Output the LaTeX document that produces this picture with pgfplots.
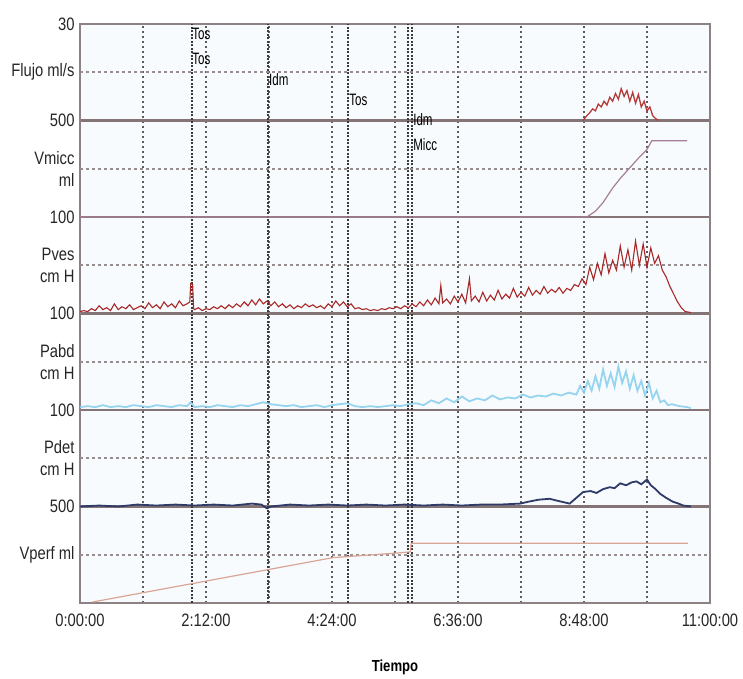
\documentclass[border=0pt]{standalone}
\usepackage{pgfplots}
\pgfplotsset{compat=1.18}
\usepackage{fontspec}
\setmainfont{Liberation Sans}[FakeStretch=0.82]
\newfontfamily\narrowfont{Liberation Sans}[FakeStretch=0.7]
\definecolor{bgc}{HTML}{F8FBFD}
\definecolor{framec}{HTML}{8C8284}
\definecolor{gridmaj}{HTML}{857476}
\definecolor{gridhalf}{HTML}{978C8E}
\definecolor{gridv}{HTML}{5E5A5C}
\definecolor{eventc}{HTML}{3A3A3A}
\definecolor{flujoc}{HTML}{B53A3A}
\definecolor{pvesc}{HTML}{A82828}
\definecolor{vmiccc}{HTML}{A58098}
\definecolor{pabdc}{HTML}{8CD0EE}
\definecolor{pdetc}{HTML}{2E3B68}
\definecolor{vperfc}{HTML}{D9A696}
\begin{document}
\begin{tikzpicture}
\path[use as bounding box] (0,0) rectangle (743bp,679bp);
\begin{axis}[
  at={(80bp,76bp)}, anchor=south west,
  width=630bp, height=579bp, scale only axis,
  xmin=0, xmax=660, ymin=0, ymax=6,
  axis background/.style={fill=bgc},
  axis line style={draw=framec, line width=2.5bp},
  major tick length=0pt, minor tick length=0pt,
  tick style={draw=none},
  xtick={0,132,264,396,528,660},
  xticklabels={0:00:00,2:12:00,4:24:00,6:36:00,8:48:00,11:00:00},
  minor xtick={66,198,330,462,594},
  xmajorgrids, xminorgrids,
  major x grid style={gridv, line width=1.2bp, dash pattern=on 2bp off 3bp},
  minor x grid style={gridv, line width=1.2bp, dash pattern=on 2bp off 3bp},
  ytick={1,2,3,4,5,6},
  yticklabels={500,100,100,100,500,30},
  ymajorgrids,
  major y grid style={gridmaj, line width=2.6bp},
  extra y ticks={0.5,1.5,2.5,3.5,4.5,5.5},
  extra y tick labels={Vperf ml,Pdet\\cm H,Pabd\\cm H,Pves\\cm H,Vmicc\\ml,Flujo ml/s},
  extra y tick style={ymajorgrids=true, major y grid style={gridhalf, line width=1.6bp, dash pattern=on 3bp off 3bp}},
  extra x ticks={117,197,281,344,348},
  extra x tick labels={},
  extra x tick style={xmajorgrids=true, major x grid style={eventc, line width=2.2bp, dash pattern=on 2bp off 1.5bp}},
  ticklabel style={font=\fontsize{18bp}{22bp}\selectfont, text=black!85},
  yticklabel style={align=right, xshift=-2bp},
  xticklabel style={yshift=-7bp},
  xlabel={Tiempo},
  xlabel style={at={(axis description cs:0.5,-0.112)}, anchor=center, font=\fontsize{16bp}{18bp}\selectfont\bfseries},
  clip=false,
]
% Flujo (baseline 5)
\addplot[flujoc, line width=1.3bp] coordinates {
(527,5.00)(531,5.05)(534,5.08)(537,5.12)(540,5.10)(543,5.17)(546,5.14)(549,5.20)(552,5.16)(555,5.24)(558,5.20)(561,5.28)(564,5.22)(567,5.33)(570,5.25)(573,5.31)(576,5.20)(579,5.29)(582,5.18)(585,5.27)(588,5.14)(591,5.20)(594,5.10)(597,5.14)(600,5.05)(603,5.02)(606,5.00)};
% Vmicc (baseline 4)
\addplot[vmiccc, line width=1.2bp] coordinates {
(0,4)(531,4.00)(540,4.06)(548,4.15)(558,4.30)(566,4.40)(576,4.51)(586,4.62)(594,4.70)(599,4.79)(636,4.79)};
% Pves (baseline 3)
\addplot[pvesc, line width=1.1bp] coordinates {
(0,3.02)(4,3.03)(8,3.02)(12,3.05)(16,3.03)(20,3.08)(24,3.04)(28,3.06)(32,3.03)(36,3.10)(40,3.04)(44,3.07)(48,3.05)(52,3.09)(56,3.04)(60,3.06)(64,3.08)(68,3.05)(72,3.11)(76,3.06)(80,3.09)(84,3.05)(88,3.12)(92,3.07)(96,3.10)(100,3.06)(104,3.13)(108,3.08)(112,3.10)(115,3.12)(116,3.31)(118,3.30)(119,3.05)(120,3.04)(124,3.06)(128,3.03)(132,3.05)(136,3.04)(140,3.07)(144,3.05)(148,3.08)(152,3.05)(156,3.09)(160,3.06)(164,3.10)(168,3.07)(172,3.12)(176,3.08)(180,3.14)(184,3.09)(188,3.15)(192,3.10)(196,3.13)(200,3.08)(204,3.12)(208,3.07)(212,3.10)(216,3.06)(220,3.09)(224,3.05)(228,3.08)(232,3.06)(236,3.10)(240,3.07)(244,3.09)(248,3.06)(252,3.08)(256,3.05)(260,3.10)(264,3.07)(268,3.13)(272,3.08)(276,3.12)(280,3.07)(284,3.10)(288,3.05)(292,3.06)(296,3.04)(300,3.05)(304,3.03)(308,3.04)(312,3.03)(316,3.05)(320,3.04)(324,3.06)(328,3.05)(332,3.07)(336,3.05)(340,3.08)(344,3.06)(348,3.10)(352,3.07)(356,3.12)(360,3.08)(364,3.14)(368,3.09)(372,3.16)(376,3.10)(378,3.29)(380,3.11)(384,3.15)(388,3.10)(392,3.18)(396,3.12)(400,3.20)(404,3.11)(408,3.36)(410,3.13)(414,3.18)(418,3.12)(422,3.22)(426,3.13)(430,3.19)(434,3.14)(438,3.24)(442,3.15)(446,3.20)(450,3.16)(454,3.26)(458,3.17)(462,3.22)(466,3.18)(470,3.27)(474,3.19)(478,3.24)(482,3.20)(486,3.28)(490,3.21)(494,3.25)(498,3.22)(502,3.27)(506,3.21)(510,3.26)(514,3.24)(518,3.30)(522,3.28)(526,3.36)(530,3.30)(534,3.48)(538,3.35)(542,3.52)(546,3.40)(550,3.62)(554,3.42)(558,3.55)(562,3.45)(566,3.70)(570,3.48)(574,3.66)(578,3.45)(582,3.75)(586,3.50)(590,3.72)(594,3.48)(598,3.68)(602,3.52)(606,3.60)(610,3.45)(614,3.38)(618,3.28)(622,3.20)(626,3.12)(630,3.06)(634,3.02)(640,3.01)};
% Pabd (baseline 2)
\addplot[pabdc, line width=1.8bp, opacity=0.9] coordinates {
(0,2.03)(8,2.04)(16,2.03)(24,2.05)(32,2.03)(40,2.04)(48,2.03)(56,2.05)(64,2.04)(72,2.03)(80,2.05)(88,2.04)(96,2.03)(104,2.05)(112,2.04)(116,2.08)(120,2.03)(128,2.04)(136,2.03)(144,2.05)(152,2.04)(160,2.03)(168,2.05)(176,2.04)(184,2.06)(192,2.08)(200,2.06)(208,2.05)(216,2.04)(224,2.05)(232,2.03)(240,2.04)(248,2.05)(256,2.03)(264,2.05)(272,2.06)(280,2.07)(288,2.04)(296,2.03)(304,2.04)(312,2.03)(320,2.04)(328,2.05)(336,2.04)(344,2.06)(352,2.07)(360,2.05)(368,2.10)(376,2.07)(384,2.12)(392,2.08)(400,2.14)(408,2.09)(416,2.12)(424,2.10)(432,2.15)(440,2.11)(448,2.13)(456,2.12)(464,2.16)(472,2.13)(480,2.15)(488,2.14)(496,2.17)(504,2.15)(512,2.18)(520,2.16)(524,2.25)(528,2.18)(532,2.30)(536,2.20)(540,2.35)(544,2.22)(548,2.42)(552,2.25)(556,2.38)(560,2.24)(564,2.45)(568,2.28)(572,2.40)(576,2.22)(580,2.36)(584,2.20)(588,2.30)(592,2.15)(596,2.28)(600,2.12)(604,2.20)(608,2.08)(612,2.10)(616,2.05)(620,2.06)(628,2.04)(636,2.03)(640,2.02)};
% Pdet (baseline 1)
\addplot[pdetc, line width=1.8bp] coordinates {
(0,1.00)(20,1.01)(40,1.00)(60,1.02)(80,1.01)(100,1.02)(120,1.01)(140,1.02)(160,1.01)(180,1.03)(190,1.02)(196,0.98)(200,1.00)(220,1.02)(240,1.01)(260,1.02)(280,1.01)(300,1.02)(320,1.01)(340,1.02)(360,1.01)(380,1.02)(400,1.01)(420,1.02)(440,1.02)(461,1.03)(470,1.05)(480,1.07)(492,1.08)(500,1.06)(513,1.03)(520,1.09)(527,1.15)(535,1.16)(541,1.14)(548,1.18)(555,1.20)(560,1.19)(566,1.24)(572,1.22)(578,1.25)(583,1.26)(588,1.23)(594,1.28)(598,1.22)(603,1.18)(608,1.13)(614,1.09)(621,1.05)(627,1.03)(632,1.01)(640,1.00)};
% Vperf (baseline 0)
\addplot[vperfc, line width=1.2bp] coordinates {
(13,0.01)(265,0.47)(335,0.52)(346,0.53)(347,0.62)(637,0.62)};
% event labels
\node[anchor=west, inner sep=0pt, font=\narrowfont\fontsize{16.5bp}{18bp}\selectfont] at (axis cs:117.5,5.896) {Tos};
\node[anchor=west, inner sep=0pt, font=\narrowfont\fontsize{16.5bp}{18bp}\selectfont] at (axis cs:117.5,5.637) {Tos};
\node[anchor=west, inner sep=0pt, font=\narrowfont\fontsize{16.5bp}{18bp}\selectfont] at (axis cs:198,5.42) {Idm};
\node[anchor=west, inner sep=0pt, font=\narrowfont\fontsize{16.5bp}{18bp}\selectfont] at (axis cs:282,5.21) {Tos};
\node[anchor=west, inner sep=0pt, font=\narrowfont\fontsize{16.5bp}{18bp}\selectfont] at (axis cs:349,5.005) {Idm};
\node[anchor=west, inner sep=0pt, font=\narrowfont\fontsize{16.5bp}{18bp}\selectfont] at (axis cs:349,4.746) {Micc};
\end{axis}
\end{tikzpicture}
\end{document}
